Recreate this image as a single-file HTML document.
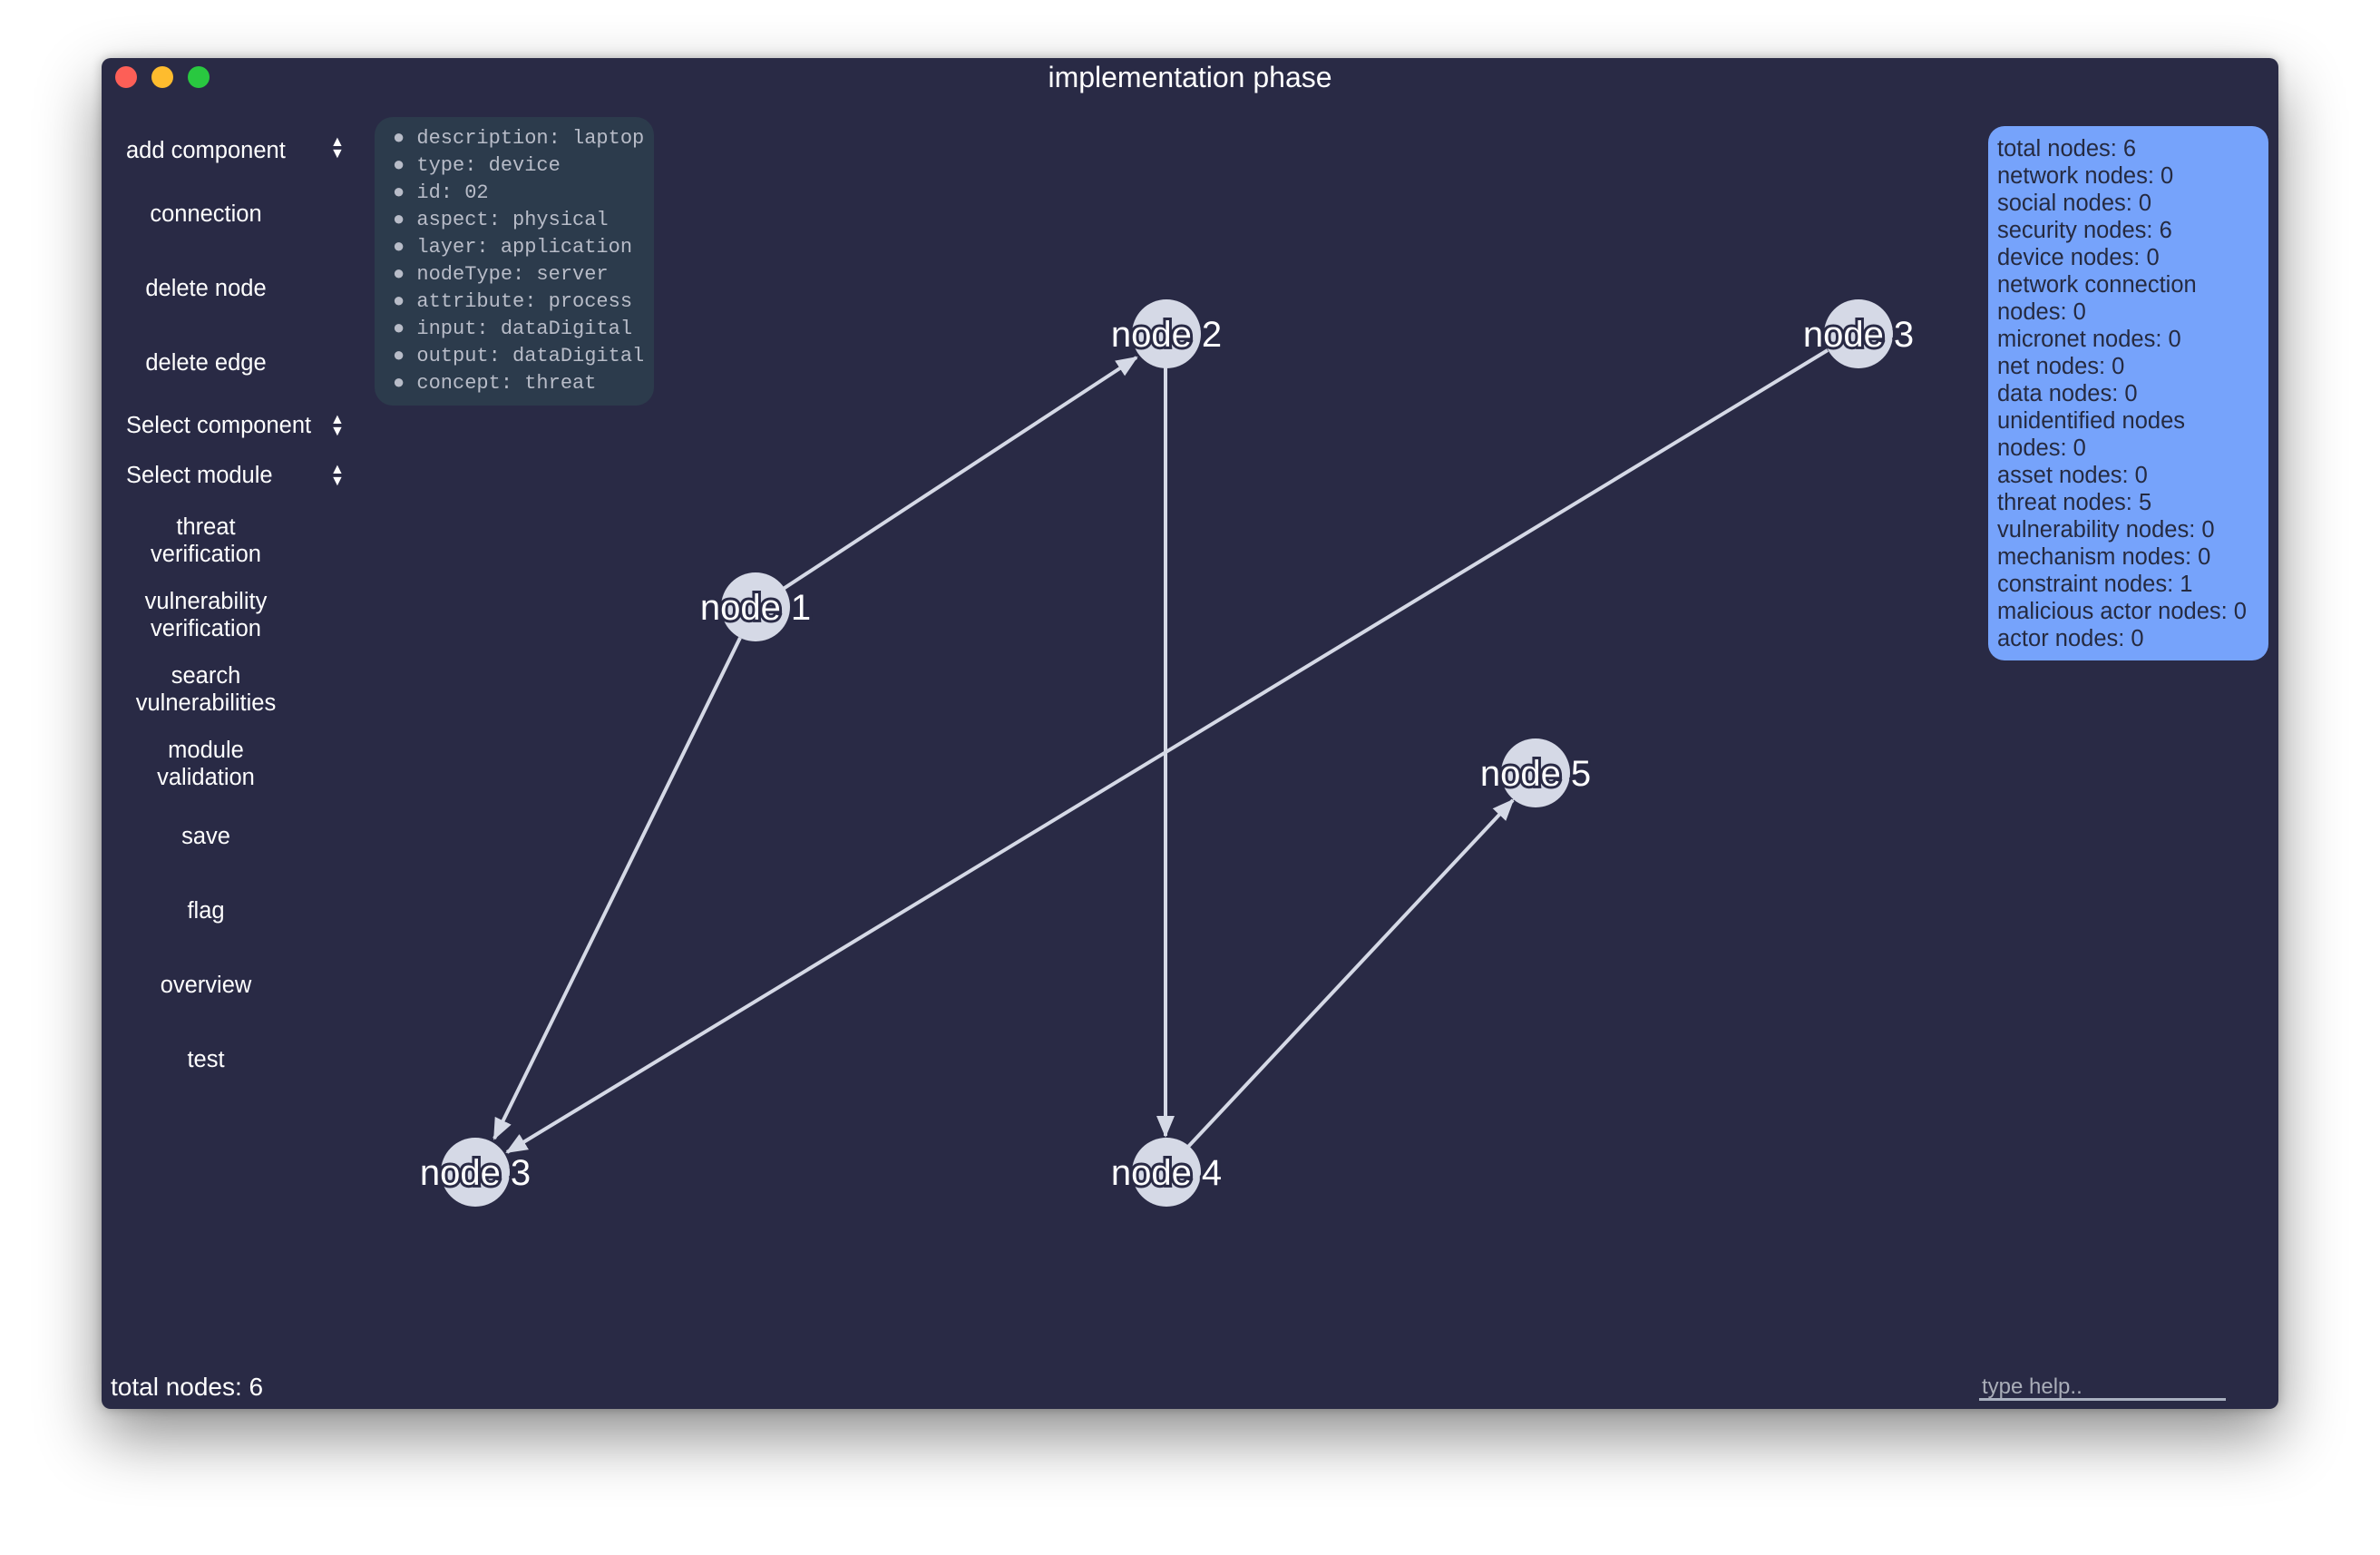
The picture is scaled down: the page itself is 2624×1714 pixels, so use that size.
<!DOCTYPE html>
<html><head><style>
body{margin:0;width:2624px;height:1714px;background:#fff;overflow:hidden;position:relative;font-family:"Liberation Sans",sans-serif}
#win{position:absolute;left:112px;top:64px;width:2400px;height:1489px;background:#292a45;border-radius:10px;box-shadow:0 30px 70px rgba(0,0,0,0.45),0 0 12px rgba(0,0,0,0.25);overflow:hidden}
.tl{position:absolute;top:9px;width:24px;height:24px;border-radius:50%}
.t{position:absolute;color:#fff;font-size:25.5px}
.c{position:absolute;color:#fff;font-size:25.5px;text-align:center;width:200px;left:15px;line-height:30px}
#info{position:absolute;left:301px;top:65px;width:308px;height:318px;background:#2c3b4c;border-radius:20px;font-family:"Liberation Mono",monospace;font-size:22px;color:#b8bcc8}
#info div{position:absolute;left:20px;white-space:pre}
#stats{position:absolute;left:2080px;top:75px;width:309px;height:589px;background:#76a3fb;border-radius:18px;color:#252a40;font-size:25.5px;line-height:30px;padding:10px 0 0 10px;box-sizing:border-box}
</style></head><body>
<div id="win">
<div class="tl" style="left:15px;background:#fd5f57"></div>
<div class="tl" style="left:55px;background:#febc2e"></div>
<div class="tl" style="left:95px;background:#29c840"></div>
<div class="t" style="left:0;width:2400px;text-align:center;top:3px;font-size:32px">implementation phase</div>

<div class="t" style="left:27px;top:88px">add component</div>
<div class="t" style="left:252px;top:86px;font-size:16px;line-height:13px">▲<br>▼</div>
<div class="c" style="top:157px">connection</div>
<div class="c" style="top:239px">delete node</div>
<div class="c" style="top:321px">delete edge</div>
<div class="t" style="left:27px;top:391px">Select component</div>
<div class="t" style="left:252px;top:392px;font-size:16px;line-height:13px">▲<br>▼</div>
<div class="t" style="left:27px;top:446px">Select module</div>
<div class="t" style="left:252px;top:447px;font-size:16px;line-height:13px">▲<br>▼</div>
<div class="c" style="top:502px">threat<br>verification</div>
<div class="c" style="top:584px">vulnerability<br>verification</div>
<div class="c" style="top:666px">search<br>vulnerabilities</div>
<div class="c" style="top:748px">module<br>validation</div>
<div class="c" style="top:843px">save</div>
<div class="c" style="top:925px">flag</div>
<div class="c" style="top:1007px">overview</div>
<div class="c" style="top:1089px">test</div>

<div id="info">
<div style="top:11px">● description: laptop</div>
<div style="top:41px">● type: device</div>
<div style="top:71px">● id: 02</div>
<div style="top:101px">● aspect: physical</div>
<div style="top:131px">● layer: application</div>
<div style="top:161px">● nodeType: server</div>
<div style="top:191px">● attribute: process</div>
<div style="top:221px">● input: dataDigital</div>
<div style="top:251px">● output: dataDigital</div>
<div style="top:281px">● concept: threat</div>
</div>

<div id="stats">total nodes: 6<br>network nodes: 0<br>social nodes: 0<br>security nodes: 6<br>device nodes: 0<br>network connection<br>nodes: 0<br>micronet nodes: 0<br>net nodes: 0<br>data nodes: 0<br>unidentified nodes<br>nodes: 0<br>asset nodes: 0<br>threat nodes: 5<br>vulnerability nodes: 0<br>mechanism nodes: 0<br>constraint nodes: 1<br>malicious actor nodes: 0<br>actor nodes: 0</div>

<div class="t" style="left:10px;top:1449px;font-size:28px">total nodes: 6</div>
<div class="t" style="left:2073px;top:1451px;font-size:24px;color:#a9adb8">type help..</div>
<div style="position:absolute;left:2070px;top:1477px;width:272px;height:3px;background:#a9b0c0"></div>

<svg width="2400" height="1489" style="position:absolute;left:0;top:0">
<defs><marker id="b" markerWidth="24" markerHeight="24" refX="22" refY="12" orient="auto" markerUnits="userSpaceOnUse"><path d="M0,2 L24,12 L0,22z" fill="#d5d9e6"/></marker></defs>
<g stroke="#d5d9e6" stroke-width="4" fill="none">
<line x1="721" y1="605" x2="1141" y2="330" marker-end="url(#b)"/>
<line x1="1173" y1="340" x2="1173" y2="1188" marker-end="url(#b)"/>
<line x1="1903" y1="322" x2="447" y2="1206" marker-end="url(#b)"/>
<line x1="704" y1="639" x2="433" y2="1191" marker-end="url(#b)"/>
<line x1="1197" y1="1201" x2="1556" y2="818" marker-end="url(#b)"/>
</g>
<g fill="#d5d9e6">
<circle cx="721" cy="605" r="38"/><circle cx="1174" cy="304" r="38"/><circle cx="1937" cy="304" r="38"/>
<circle cx="412" cy="1228" r="38"/><circle cx="1174" cy="1228" r="38"/><circle cx="1581" cy="788" r="38"/>
</g>
<g font-size="40" fill="#fff" stroke="#292a45" stroke-width="6" paint-order="stroke" text-anchor="middle" font-family="Liberation Sans,sans-serif">
<text x="721" y="619">node 1</text>
<text x="1174" y="318">node 2</text>
<text x="1937" y="318">node 3</text>
<text x="412" y="1242">node 3</text>
<text x="1174" y="1242">node 4</text>
<text x="1581" y="802">node 5</text>
</g>
</svg>
</div>
</body></html>
